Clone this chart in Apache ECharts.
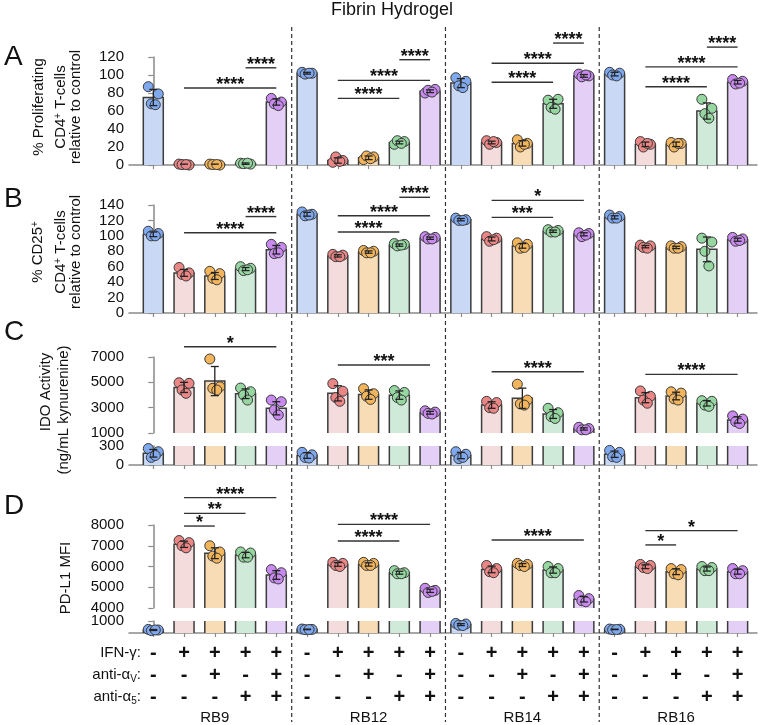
<!DOCTYPE html>
<html><head><meta charset="utf-8">
<script src="https://cdn.jsdelivr.net/npm/echarts@6/dist/echarts.min.js"></script>
<style>html,body{margin:0;padding:0;background:#fff}#c{width:762px;height:725px}</style>
</head><body><div id="c"></div>
<script>
// ---------------- DATA ----------------
const groups = ['RB9', 'RB12', 'RB14', 'RB16'];
const ifnSigns = ['-', '+', '+', '+', '+'];
const avSigns  = ['-', '-', '+', '-', '+'];
const a5Signs  = ['-', '-', '-', '+', '+'];
const rowLabels = ['IFN-γ:', 'anti-αV:', 'anti-α5:'];

// Panel A: % Proliferating CD4+ T-cells
const aMean = [75, 0.5, 0.5, 1.5, 70,  102, 5, 8, 25, 82,  91, 25, 24, 68, 99,  101, 23, 23, 60, 92];
const aSD   = [9, 0.5, 0.5, 0.8, 3.5,  1, 3, 2, 1.5, 1.5,  5, 1.5, 3, 5, 1.5,  2, 2.5, 2.5, 9, 2];
const aDots = [
  [87, 79, 68, 67], [1, 0, 0.5, 0.5], [1, 0, 0.5, 0.5], [2, 1, 1.5, 2], [74, 70, 68, 66],
  [103, 102, 101, 102], [3, 5, 9, 4], [6, 9, 10, 7], [23, 26, 27, 24], [80, 84, 83, 81],
  [97, 93, 88, 86], [27, 25, 23, 26], [28, 24, 20, 23], [72, 73, 64, 62], [101, 99, 98, 100],
  [103, 102, 100, 99], [26, 23, 20, 24], [25, 24, 20, 24], [73, 63, 57, 52], [95, 93, 90, 91]
];
const aSig = [[1, 4, 85.5, '****'], [3, 4, 108, '****'], [6, 8, 74, '****'], [6, 9, 94, '****'], [8, 9, 117, '****'],
  [11, 13, 92, '****'], [11, 14, 113, '****'], [13, 14, 135.5, '****'], [16, 18, 87, '****'], [16, 19, 109, '****'], [18, 19, 131, '****']];

// Panel B: % CD25+ CD4+ T-cells
const bMean = [102, 52, 48, 57, 82,  128, 74, 79, 88, 97,  121, 96, 87, 106, 102,  124, 86, 85, 82.5, 95];
const bSD   = [3, 4.5, 4.5, 2, 5.5,  2.5, 1.5, 1.5, 1.5, 1.5,  1.5, 2.5, 3, 1.5, 2,  2, 1.5, 1.5, 16, 2];
const bDots = [
  [106, 103, 100, 100], [59, 52, 50, 48], [54, 51, 45, 43], [60, 58, 55, 56], [89, 85, 77, 78],
  [131, 128, 126, 127], [76, 75, 73, 73], [81, 80, 78, 78], [90, 89, 87, 88], [99, 98, 96, 96],
  [123, 121, 120, 120], [99, 97, 93, 95], [91, 89, 84, 85], [108, 107, 105, 105], [104, 103, 99, 101],
  [127, 125, 123, 123], [88, 87, 85, 84], [87, 86, 84, 84], [97, 92, 80, 61], [98, 96, 93, 94]
];
const bSig = [[1, 4, 104, '****'], [3, 4, 125, '****'], [6, 8, 105, '****'], [6, 9, 126, '****'], [8, 9, 150, '****'],
  [11, 13, 124, '***'], [11, 14, 146, '*']];

// Panel C: IDO activity (ng/mL kynurenine)
const cMean = [185, 4600, 5100, 4100, 2950,  150, 4130, 4030, 3990, 2600,  150, 3210, 3740, 2500, 1320,  170, 3790, 3920, 3340, 2030];
const cSD   = [60, 400, 1150, 380, 520,  45, 600, 370, 330, 110,  50, 260, 800, 350, 90,  50, 400, 300, 210, 250];
const cDots = [
  [260, 210, 120, 150], [4970, 4920, 4400, 4130], [6840, 4650, 4530, 4390], [4550, 4260, 4000, 3600], [3600, 3470, 2820, 2420],
  [200, 160, 120, 110], [4900, 4300, 3800, 3500], [4500, 4100, 3900, 3650], [4350, 4200, 3800, 3600], [2750, 2650, 2550, 2500],
  [210, 170, 100, 120], [3500, 3400, 3000, 2950], [4850, 3600, 3300, 3200], [2950, 2600, 2300, 2150], [1450, 1350, 1250, 1250],
  [230, 200, 130, 120], [4320, 3900, 3600, 3350], [4250, 4150, 3700, 3600], [3550, 3500, 3200, 3100], [2350, 2100, 1900, 1750]
];
const cSig = [[1, 4, 7810, '*'], [6, 9, 6370, '***'], [11, 14, 5840, '****'], [16, 19, 5630, '****']];

// Panel D: PD-L1 MFI
const dMean = [250, 7070, 6640, 6550, 5590,  300, 6100, 6100, 5700, 4830,  700, 5860, 6070, 5830, 4420,  300, 5990, 5750, 5880, 5750];
const dSD   = [40, 150, 260, 130, 210,  20, 90, 80, 70, 80,  80, 160, 70, 150, 130,  20, 90, 140, 100, 120];
const dDots = [
  [300, 250, 200, 250], [7250, 7150, 7000, 6900], [7000, 6700, 6500, 6400], [6700, 6650, 6450, 6450], [5850, 5700, 5450, 5400],
  [330, 300, 280, 290], [6200, 6150, 6050, 6000], [6200, 6150, 6050, 6050], [5800, 5700, 5650, 5650], [4950, 4850, 4750, 4800],
  [800, 750, 650, 620], [6050, 5900, 5750, 5700], [6150, 6100, 6050, 6000], [6000, 5900, 5700, 5700], [4600, 4450, 4350, 4300],
  [330, 310, 280, 290], [6100, 6050, 5950, 5900], [5900, 5850, 5650, 5600], [6000, 5950, 5800, 5800], [5900, 5800, 5650, 5650]
];
const dSig = [[1, 2, 7950, '*'], [1, 3, 8560, '**'], [1, 4, 9320, '****'], [6, 8, 7230, '****'], [6, 9, 8030, '****'],
  [11, 14, 7280, '****'], [16, 17, 7040, '*'], [16, 19, 7730, '*']];

// ---------------- STYLE ----------------
const FF = '"Liberation Sans", Arial, Helvetica, sans-serif';
const barFill = ['#c8d8f5', '#f5dcdc', '#f7dcb5', '#cfead8', '#e4cff6'];
const dotFill = ['#7fa8ee', '#ea8686', '#f3b55c', '#96d6a1', '#c98af0'];
const AX = '#8a8a8a';
const BW = 20, DOT_R = 5;
const DOX = [-5, 5, -2, 2];
const X_MIN = -0.79, X_MAX = 19.63;
const nCat = groups.length * 5;
const catIdx = Array.from({length: nCat}, (_, i) => i);
const plain = v => String(v);

const grids = [
  {left: 129, width: 628, top: 57, height: 108},   // 0 A
  {left: 129, width: 628, top: 205, height: 108},  // 1 B
  {left: 129, width: 628, top: 357, height: 76},   // 2 C upper
  {left: 129, width: 628, top: 446, height: 19},   // 3 C lower
  {left: 129, width: 628, top: 525, height: 83},   // 4 D upper
  {left: 129, width: 628, top: 621, height: 12},   // 5 D lower
  {left: 129, width: 628, top: 642, height: 67.5}, // 6 table
  {left: 129, width: 628, top: 27, height: 695}    // 7 separators
];
const xWithLine = [0, 1, 3, 5];

const xAxes = grids.map((g, gi) => {
  const base = {gridIndex: gi, type: 'value', min: X_MIN, max: X_MAX, splitLine: {show: false}};
  if (xWithLine.includes(gi)) {
    return Object.assign(base, {
      axisLine: {show: true, lineStyle: {color: AX, width: 1.5}},
      axisTick: {show: true, customValues: catIdx, length: 4, lineStyle: {color: AX, width: 1.2}},
      axisLabel: {show: false}
    });
  }
  if (gi === 6) {
    return Object.assign(base, {
      axisLine: {show: false}, axisTick: {show: false},
      axisLabel: {show: true, customValues: groups.map((_, k) => k * 5 + 2), margin: 2,
        formatter: v => groups[Math.round((v - 2) / 5)], fontSize: 15, fontFamily: FF, color: '#111'}
    });
  }
  return Object.assign(base, {show: false});
});

function yLab(extra) {
  return Object.assign({fontSize: 15, fontFamily: FF, color: '#111', margin: 5, formatter: plain}, extra || {});
}
function yv(gi, min, max, extra) {
  return Object.assign({
    gridIndex: gi, type: 'value', min, max,
    axisLine: {show: true, lineStyle: {color: AX, width: 1.5}},
    axisTick: {show: true, length: 5, lineStyle: {color: AX, width: 1.2}},
    axisLabel: yLab(),
    splitLine: {show: false}
  }, extra || {});
}
const cUpTicks = [1000, 3000, 5000, 7000];
const cLowTicks = [0, 300];
const yAxes = [
  yv(0, 0, 120, {interval: 20}),
  yv(1, 0, 140, {interval: 20}),
  yv(2, 1000, 7000, {axisLabel: yLab({customValues: cUpTicks}),
                     axisTick: {show: true, length: 5, lineStyle: {color: AX, width: 1.2}, customValues: cUpTicks}}),
  yv(3, 0, 300, {axisLabel: yLab({customValues: cLowTicks}),
                 axisTick: {show: true, length: 5, lineStyle: {color: AX, width: 1.2}, customValues: cLowTicks}}),
  yv(4, 4000, 8000, {interval: 1000}),
  yv(5, 0, 1000, {interval: 1000}),
  {gridIndex: 6, type: 'category', inverse: true, data: rowLabels,
   axisLine: {show: false}, axisTick: {show: false},
   axisLabel: {margin: -12, fontSize: 15, fontFamily: FF, color: '#111',
     formatter: v => {
       if (v.indexOf('αV') >= 0) return '{t|anti-α}{s|V}{t|:}';
       if (v.indexOf('α5') >= 0) return '{t|anti-α}{s|5}{t|:}';
       return '{t|' + v + '}';
     },
     rich: {t: {fontSize: 15, fontFamily: FF, color: '#111', lineHeight: 18},
            s: {fontSize: 10, fontFamily: FF, color: '#111', lineHeight: 10, verticalAlign: 'bottom'}}}},
  {gridIndex: 7, type: 'value', min: 0, max: 1, show: false}
];

function barSeg(gi, means, sds, dots, lo, hi) {
  return {
    type: 'custom', xAxisIndex: gi, yAxisIndex: gi, clip: false, z: 3,
    data: means.map((m, i) => [i, m, sds[i]].concat(dots[i])),
    renderItem(params, api) {
      const i = api.value(0), m = api.value(1), sd = api.value(2);
      const k = i % 5;
      const ch = [];
      if (m > lo) {
        const top = Math.min(m, hi);
        const pb = api.coord([i, lo]), pt = api.coord([i, top]);
        const xl = pb[0] - BW / 2, xr = pb[0] + BW / 2;
        ch.push({type: 'rect', shape: {x: xl, y: pt[1], width: BW, height: pb[1] - pt[1]}, style: {fill: barFill[k]}});
        if (m <= hi) {
          ch.push({type: 'polyline', shape: {points: [[xl, pb[1]], [xl, pt[1]], [xr, pt[1]], [xr, pb[1]]]},
                   style: {stroke: '#3c3c3c', lineWidth: 1.5, fill: null}});
        } else {
          ch.push({type: 'line', shape: {x1: xl, y1: pb[1], x2: xl, y2: pt[1]}, style: {stroke: '#3c3c3c', lineWidth: 1.5}});
          ch.push({type: 'line', shape: {x1: xr, y1: pb[1], x2: xr, y2: pt[1]}, style: {stroke: '#3c3c3c', lineWidth: 1.5}});
        }
      }
      for (let j = 0; j < 4; j++) {
        const v = api.value(3 + j);
        if (v >= lo && v <= hi) {
          const p = api.coord([i, v]);
          ch.push({type: 'circle', shape: {cx: p[0] + DOX[j], cy: p[1], r: DOT_R},
                   style: {fill: dotFill[k], stroke: '#3a3a3a', lineWidth: 1}});
        }
      }
      if (m > lo && m <= hi) {
        const pU = api.coord([i, m + sd]), pL = api.coord([i, Math.max(lo, m - sd)]);
        const x = pU[0];
        ch.push({type: 'line', shape: {x1: x, y1: pU[1], x2: x, y2: pL[1]}, style: {stroke: '#222', lineWidth: 1.3}});
        ch.push({type: 'line', shape: {x1: x - 4, y1: pU[1], x2: x + 4, y2: pU[1]}, style: {stroke: '#222', lineWidth: 1.3}});
        if (m - sd > lo) ch.push({type: 'line', shape: {x1: x - 4, y1: pL[1], x2: x + 4, y2: pL[1]}, style: {stroke: '#222', lineWidth: 1.3}});
      }
      return {type: 'group', children: ch};
    }
  };
}

function sigSeries(gi, sigs) {
  return {
    type: 'custom', xAxisIndex: gi, yAxisIndex: gi, clip: false, z: 4,
    data: sigs.map(s => [s[0], s[2], s[1]]),
    renderItem(params, api) {
      const s = sigs[params.dataIndex];
      const a = api.coord([s[0], s[2]]), b = api.coord([s[1], s[2]]);
      return {type: 'group', children: [
        {type: 'line', shape: {x1: a[0], y1: a[1], x2: b[0], y2: b[1]}, style: {stroke: '#333', lineWidth: 1.4}},
        {type: 'text', x: (a[0] + b[0]) / 2, y: a[1] - 3,
         style: {text: s[3], textAlign: 'center', textVerticalAlign: 'middle', fontSize: 18, fontWeight: 'bold', fontFamily: FF, fill: '#111'}}
      ]};
    }
  };
}

const sepValues = groups.slice(1).map((_, k) => (k + 1) * 5 - 0.5);
const sepSeries = {
  type: 'custom', xAxisIndex: 7, yAxisIndex: 7, clip: false, z: 1,
  data: sepValues.map(v => [v, 0]),
  renderItem(params, api) {
    const cs = params.coordSys;
    const x = api.coord([api.value(0), 0])[0];
    return {type: 'line', shape: {x1: x, y1: cs.y, x2: x, y2: cs.y + cs.height},
            style: {stroke: '#333', lineWidth: 1.2, lineDash: [4, 3]}};
  }
};

const tableData = [];
const signRows = [ifnSigns, avSigns, a5Signs];
signRows.forEach((row, r) => {
  for (let i = 0; i < nCat; i++) tableData.push([i, r, row[i % 5]]);
});
const tableSeries = {
  type: 'custom', xAxisIndex: 6, yAxisIndex: 6, clip: false, z: 3,
  data: tableData.map(d => [d[0], d[1]]),
  renderItem(params, api) {
    const d = tableData[params.dataIndex];
    const p = api.coord([d[0], d[1]]);
    return {type: 'text', x: p[0], y: p[1],
      style: {text: d[2], textAlign: 'center', textVerticalAlign: 'middle', fontSize: 20, fontWeight: 'bold', fontFamily: FF, fill: '#111'}};
  }
};

function yName(x, y, text) {
  return {type: 'text', x, y, rotation: Math.PI / 2,
    style: {text, textAlign: 'center', textVerticalAlign: 'middle', fontSize: 15, fontFamily: FF, fill: '#111',
      rich: {sup: {fontSize: 10, fontFamily: FF, fill: '#111', lineHeight: 10, verticalAlign: 'top'}}}};
}
function letter(x, y, t) {
  return {type: 'text', x, y, style: {text: t, textAlign: 'left', textVerticalAlign: 'middle', fontSize: 28, fontFamily: FF, fill: '#111'}};
}

const option = {
  animation: false,
  backgroundColor: '#fff',
  grid: grids,
  xAxis: xAxes,
  yAxis: yAxes,
  graphic: [
    {type: 'text', x: 392, y: 10, style: {text: 'Fibrin Hydrogel', textAlign: 'center', textVerticalAlign: 'middle', fontSize: 18, fontFamily: FF, fill: '#111'}},
    letter(4, 57, 'A'), letter(4, 199, 'B'), letter(4, 332, 'C'), letter(4, 506, 'D'),
    yName(39, 107, '% Proliferating'), yName(61, 107, 'CD4{sup|+} T-cells'), yName(76, 107, 'relative to control'),
    yName(38, 252, '% CD25{sup|+}'), yName(61, 252, 'CD4{sup|+} T-cells'), yName(76, 252, 'relative to control'),
    yName(46, 392, 'IDO Activity'), yName(64, 410, '(ng/mL kynurenine)'),
    yName(66, 578, 'PD-L1 MFI')
  ],
  series: [
    sepSeries,
    barSeg(0, aMean, aSD, aDots, 0, 120),
    barSeg(1, bMean, bSD, bDots, 0, 140),
    barSeg(2, cMean, cSD, cDots, 1000, 7000),
    barSeg(3, cMean, cSD, cDots, 0, 300),
    barSeg(4, dMean, dSD, dDots, 4000, 8000),
    barSeg(5, dMean, dSD, dDots, 0, 1000),
    sigSeries(0, aSig), sigSeries(1, bSig), sigSeries(2, cSig), sigSeries(4, dSig),
    tableSeries
  ]
};
const chart = echarts.init(document.getElementById('c'), null, {renderer: 'canvas'});
chart.setOption(option);
</script>
</body></html>
